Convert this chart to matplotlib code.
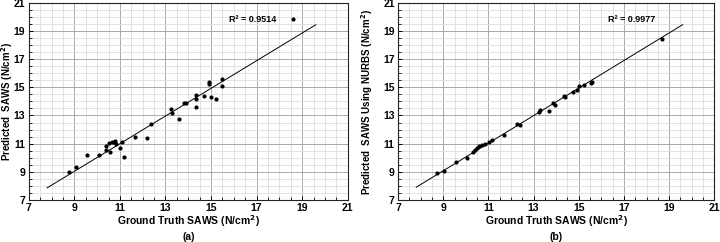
import matplotlib.pyplot as plt
from matplotlib.ticker import MultipleLocator, FixedLocator

plt.rcParams['font.family'] = ['Liberation Sans', 'DejaVu Sans']
plt.rcParams['font.weight'] = 'bold'

# panel (a): ground truth vs predicted SAWS
truth_a = [18.61, 15.50, 15.49, 14.89, 14.89, 14.70, 14.99, 15.20, 14.36, 14.36,
           14.33, 13.92, 13.80, 13.25, 13.28, 13.60, 12.38, 12.19, 11.65, 11.18,
           11.02, 11.08, 10.78, 10.81, 10.72, 10.64, 10.50, 10.37, 10.40, 10.55,
           10.08, 9.55, 9.05, 8.76]
pred_a = [19.88, 15.58, 15.11, 15.39, 15.27, 14.38, 14.33, 14.19, 14.47, 14.19,
          13.57, 13.86, 13.86, 13.45, 13.17, 12.74, 12.37, 11.40, 11.47, 10.07,
          10.69, 11.14, 11.21, 10.97, 11.14, 11.09, 11.02, 10.83, 10.55, 10.43,
          10.19, 10.19, 9.36, 9.01]
fit_a_x = [7.8, 19.6]
fit_a_y = [7.85, 19.45]

# panel (b): ground truth vs predicted SAWS using NURBS
truth_b = [18.69, 15.58, 15.55, 15.24, 14.99, 14.94, 14.76, 14.40, 14.35, 13.85,
           13.95, 13.29, 13.24, 13.66, 12.25, 12.40, 11.69, 11.17, 11.04, 10.83,
           10.70, 10.57, 10.48, 10.40, 10.33, 10.06, 9.54, 9.03, 8.73]
pred_b = [18.47, 15.39, 15.32, 15.20, 15.09, 14.80, 14.68, 14.28, 14.40, 13.90,
          13.76, 13.38, 13.27, 13.34, 12.39, 12.34, 11.61, 11.23, 11.14, 10.97,
          10.90, 10.85, 10.66, 10.55, 10.43, 9.98, 9.67, 9.08, 8.94]
fit_b_x = [7.8, 19.6]
fit_b_y = [7.9, 19.45]

ticks = [7, 9, 11, 13, 15, 17, 19, 21]

panels = [
    (truth_a, pred_a, fit_a_x, fit_a_y, "R² = 0.9514", "Predicted  SAWS (N/cm$^\\mathbf{2}$)", "(a)"),
    (truth_b, pred_b, fit_b_x, fit_b_y, "R² = 0.9977", "Predicted  SAWS Using NURBS (N/cm$^\\mathbf{2}$)", "(b)"),
]
r2_pos = [(15.8, 19.8), (16.3, 19.8)]
ax_rects = [[0.040, 0.174, 0.443, 0.814], [0.553, 0.174, 0.439, 0.814]]
ylab_x = [0.010, 0.510]

fig = plt.figure(figsize=(7.2, 2.42), dpi=100)

for i, (tx, py, fx, fy, r2, ylab, tag) in enumerate(panels):
    ax = fig.add_axes(ax_rects[i])
    ax.set_xlim(7, 21)
    ax.set_ylim(7, 21)
    ax.xaxis.set_major_locator(FixedLocator(ticks))
    ax.yaxis.set_major_locator(FixedLocator(ticks))
    ax.xaxis.set_minor_locator(MultipleLocator(0.5))
    ax.yaxis.set_minor_locator(MultipleLocator(0.5))
    ax.grid(which='minor', color='#dddddd', lw=0.6)
    ax.grid(which='major', color='#aaaaaa', lw=0.7)
    ax.set_axisbelow(True)
    ax.tick_params(which='major', direction='in', length=3, width=0.7,
                   labelsize=7.5, pad=2.5)
    ax.tick_params(which='minor', direction='in', length=2, width=0.6)
    for lbl in ax.get_xticklabels() + ax.get_yticklabels():
        lbl.set_fontweight('bold')
    for s in ax.spines.values():
        s.set_linewidth(0.8)
        s.set_color('#222222')

    ax.plot(fx, fy, color='black', lw=0.7)
    ax.scatter(tx, py, s=9, color='black', zorder=3, linewidths=0)
    ax.text(r2_pos[i][0], r2_pos[i][1], r2, fontsize=6.5, fontweight='bold',
            va='center')

    ax.set_xlabel("Ground Truth SAWS (N/cm$^\\mathbf{2}$)", fontsize=7.5, fontweight='bold')
    ax.set_ylabel(ylab, fontsize=7, fontweight='bold')
    x_mid = ax_rects[i][0] + ax_rects[i][2] / 2
    ax.xaxis.set_label_coords(x_mid, 0.087, transform=fig.transFigure)
    ax.yaxis.set_label_coords(ylab_x[i], 0.58, transform=fig.transFigure)
    ax.xaxis.label.set_va('center')
    ax.yaxis.label.set_va('center')
    fig.text(x_mid, 0.022, tag, ha='center', va='center',
             fontsize=7.5, fontweight='bold')

fig.savefig('out.png', dpi=100)
